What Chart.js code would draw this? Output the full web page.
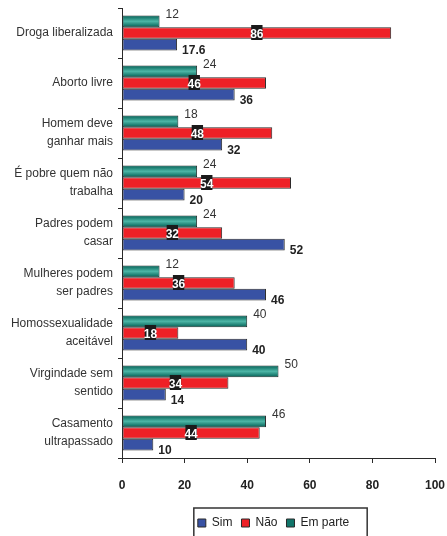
<!DOCTYPE html>
<html>
<head>
<meta charset="utf-8">
<style>
  html, body { margin: 0; padding: 0; background: #fff; }
  #wrap { width: 447px; height: 536px; }
</style>
</head>
<body>
<div id="wrap"><canvas id="myChart"></canvas></div>
<script src="https://cdn.jsdelivr.net/npm/chart.js@4/dist/chart.umd.min.js"></script>
<script>
const categories = [
  'Droga liberalizada',
  'Aborto livre',
  ['Homem deve', 'ganhar mais'],
  ['É pobre quem não', 'trabalha'],
  ['Padres podem', 'casar'],
  ['Mulheres podem', 'ser padres'],
  ['Homossexualidade', 'aceitável'],
  ['Virgindade sem', 'sentido'],
  ['Casamento', 'ultrapassado']
];
const sim     = [17.6, 36, 32, 20, 52, 46, 40, 14, 10];
const nao     = [86, 46, 48, 54, 32, 36, 18, 34, 44];
const emParte = [12, 24, 18, 24, 24, 12, 40, 50, 46];
const xTicks  = [0, 20, 40, 60, 80, 100];

const FONT = "'Liberation Sans', Arial, sans-serif";
const EDGE = '#2a2a2a';
const LEGEND_SHIFT = 56;

Chart.defaults.font.family = FONT;
Chart.defaults.font.size = 12;
Chart.defaults.color = '#222';

const barDecor = {
  id: 'barDecor',
  afterLayout(chart) {
    // legend sits right of centre in the original
    const lg = chart.legend;
    lg.left += LEGEND_SHIFT;
    lg.right += LEGEND_SHIFT;
  },
  afterDatasetsDraw(chart) {
    const ctx = chart.ctx;
    ctx.save();
    chart.data.datasets.forEach((ds, i) => {
      if (ds.label !== 'Em parte') return;
      chart.getDatasetMeta(i).data.forEach(bar => {
        const top = bar.y - bar.height / 2;
        const bottom = bar.y + bar.height / 2;
        const g = ctx.createLinearGradient(0, top + 1, 0, bottom - 1);
        g.addColorStop(0, '#0f6e63');
        g.addColorStop(0.5, '#4db6a6');
        g.addColorStop(1, '#0f6e63');
        ctx.fillStyle = g;
        ctx.fillRect(bar.base + 1, top + 1, bar.x - bar.base - 2, bottom - top - 2);
      });
    });
    chart.data.datasets.forEach((ds, i) => {
      chart.getDatasetMeta(i).data.forEach((bar, j) => {
        const v = String(ds.data[j]);
        ctx.textBaseline = 'middle';
        if (ds.label === 'Em parte') {
          ctx.font = '12px ' + FONT;
          ctx.fillStyle = '#333';
          ctx.textAlign = 'left';
          ctx.fillText(v, bar.x + 6, bar.y - 7);
        } else if (ds.label === 'Sim') {
          ctx.font = 'bold 12px ' + FONT;
          ctx.fillStyle = '#222';
          ctx.textAlign = 'left';
          ctx.fillText(v, bar.x + 5, bar.y + 6);
        } else {
          ctx.font = 'bold 12px ' + FONT;
          const w = ctx.measureText(v).width;
          const cx = (bar.x + bar.base) / 2;
          ctx.fillStyle = '#1a1a1a';
          ctx.fillRect(cx - w / 2 + 1, bar.y - 8, w - 2, 15);
          ctx.fillStyle = '#fff';
          ctx.textAlign = 'center';
          ctx.fillText(v, cx, bar.y + 2);
        }
      });
    });
    ctx.restore();
  },
  afterDraw(chart) {
    const boxes = chart.legend.legendHitBoxes;
    if (!boxes || !boxes.length) return;
    const left = Math.min(...boxes.map(b => b.left)) - 4;
    const right = Math.max(...boxes.map(b => b.left + b.width)) + 18;
    const top = boxes[0].top - 9;
    const ctx = chart.ctx;
    ctx.save();
    ctx.strokeStyle = '#333';
    ctx.lineWidth = 1.5;
    ctx.strokeRect(left, top, right - left, 60);
    ctx.restore();
  }
};

const ctx = document.getElementById('myChart');

const chart = new Chart(ctx, {
  type: 'bar',
  data: {
    labels: categories,
    datasets: [
      {
        label: 'Em parte',
        data: emParte,
        backgroundColor: '#11756a',
        borderColor: EDGE,
        borderWidth: 1,
        borderSkipped: false
      },
      {
        label: 'Não',
        data: nao,
        backgroundColor: '#ee2026',
        borderColor: EDGE,
        borderWidth: 1,
        borderSkipped: false
      },
      {
        label: 'Sim',
        data: sim,
        backgroundColor: '#3852a4',
        borderColor: EDGE,
        borderWidth: 1,
        borderSkipped: false
      }
    ]
  },
  options: {
    indexAxis: 'y',
    responsive: true,
    maintainAspectRatio: false,
    animation: false,
    datasets: {
      bar: { categoryPercentage: 0.7, barPercentage: 1 }
    },
    layout: {
      padding: { top: 8, right: 12, bottom: 0, left: 0 }
    },
    scales: {
      x: {
        min: 0,
        max: 100,
        afterBuildTicks: scale => { scale.ticks = xTicks.map(v => ({ value: v })); },
        afterFit: scale => {
          scale.height = 50;
          scale.paddingLeft = 0;
          scale.paddingRight = 0;
        },
        grid: { drawOnChartArea: false, tickLength: 5, color: EDGE, lineWidth: 1 },
        border: { display: true, color: EDGE, width: 1 },
        ticks: { padding: 15, font: { weight: 'bold', size: 12 }, color: '#222' }
      },
      y: {
        afterFit: scale => {
          scale.width = 122;
          scale.paddingTop = 0;
          scale.paddingBottom = 0;
        },
        grid: { offset: true, drawOnChartArea: false, tickLength: 4, color: EDGE, lineWidth: 1 },
        border: { display: true, color: EDGE, width: 1 },
        ticks: { padding: 5, font: { size: 12, lineHeight: 1.5 }, color: '#333' }
      }
    },
    plugins: {
      legend: {
        position: 'bottom',
        reverse: true,
        maxHeight: 28,
        labels: {
          boxWidth: 8,
          boxHeight: 8,
          padding: 9,
          color: '#222',
          font: { size: 12 }
        }
      },
      tooltip: { enabled: false }
    }
  },
  plugins: [barDecor]
});
</script>
</body>
</html>
